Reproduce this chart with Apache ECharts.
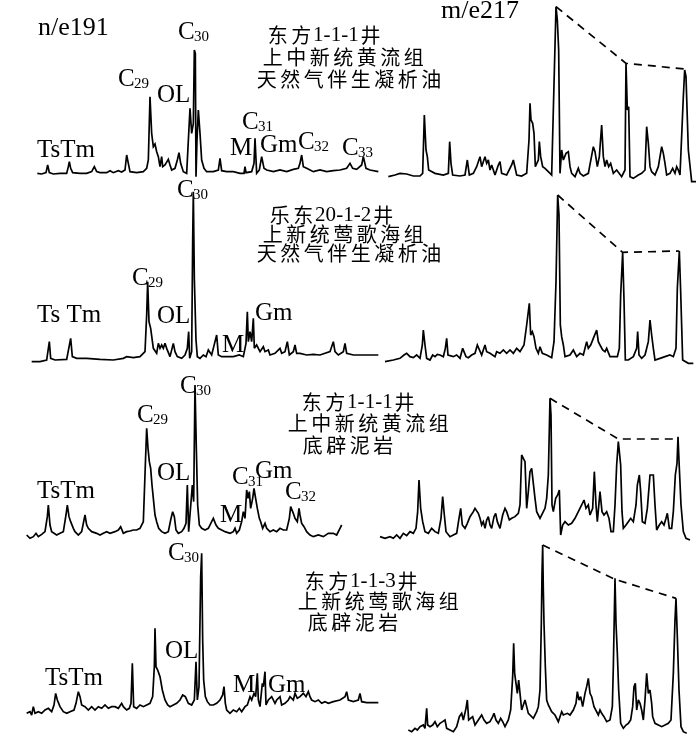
<!DOCTYPE html>
<html><head><meta charset="utf-8">
<script src="https://cdn.jsdelivr.net/npm/echarts@6/dist/echarts.min.js"></script>
<style>html,body{margin:0;padding:0;background:#fff}#c{width:700px;height:736px}</style>
</head><body><div id="c"></div>
<script>
// Retention (scan units) vs abundance above baseline
const traceDF111_m191 = [[112,0],[125,-2],[138,2],[143,25],[148,2],[160,-2],[180,0],[200,0],[205,20],[208,35],[212,15],[218,2],[240,0],[260,0],[275,5],[283,20],[290,5],[300,2],[320,2],[330,8],[340,2],[355,8],[365,4],[375,10],[380,55],[385,30],[390,5],[410,2],[430,5],[440,15],[445,40],[450,230],[455,120],[460,80],[465,88],[470,65],[475,50],[480,20],[485,50],[488,20],[495,25],[500,30],[505,42],[510,25],[515,10],[525,15],[532,40],[537,62],[542,30],[550,5],[560,0],[565,-2],[570,195],[575,120],[580,150],[583,370],[586,360],[588,-10],[591,100],[595,190],[600,120],[605,40],[612,15],[620,5],[640,5],[655,10],[660,45],[665,8],[680,5],[700,5],[720,0],[732,0],[735,20],[738,2],[755,5],[762,30],[765,105],[770,0],[778,10],[785,50],[792,15],[800,10],[820,5],[840,10],[860,5],[880,12],[895,15],[900,30],[905,55],[910,20],[920,15],[940,5],[960,10],[980,5],[1000,8],[1020,10],[1040,15],[1050,30],[1058,15],[1070,12],[1085,25],[1090,50],[1098,15],[1110,10],[1135,5]];
const traceDF111_m217 = [[25,0],[45,5],[60,10],[80,8],[100,2],[120,2],[128,10],[133,185],[138,80],[142,60],[146,20],[150,15],[165,10],[190,5],[205,10],[209,105],[213,40],[218,5],[240,2],[255,5],[262,50],[268,5],[280,10],[290,30],[300,60],[305,30],[310,45],[315,60],[320,40],[325,50],[330,20],[335,35],[345,5],[355,35],[360,45],[365,10],[380,5],[395,35],[400,50],[405,45],[410,5],[425,2],[440,10],[447,110],[450,220],[453,170],[458,160],[462,130],[466,30],[470,25],[475,50],[478,105],[482,60],[488,30],[495,25],[505,15],[515,5],[520,10],[528,510],[532,470],[536,380],[540,10],[545,80],[550,50],[558,70],[565,75],[570,30],[575,10],[585,0],[595,25],[600,10],[610,2],[625,10],[640,90],[645,75],[652,30],[658,60],[665,155],[670,60],[675,30],[680,50],[686,30],[692,40],[700,10],[710,20],[725,0],[735,20],[738,340],[742,200],[746,210],[750,0],[760,-5],[775,5],[785,10],[795,20],[800,150],[805,100],[810,30],[815,15],[825,5],[835,30],[845,90],[850,70],[855,40],[860,5],[870,10],[878,25],[885,10],[890,30],[895,20],[900,5],[905,10],[910,240],[914,320],[918,300],[925,80],[935,-15],[948,-15]];
const steraneDF111_oil = [[528,510],[738,340],[915,323]];

const traceLD2012_m191 = [[95,0],[120,0],[140,5],[148,60],[152,10],[165,5],[200,7],[212,70],[217,15],[230,10],[260,10],[300,7],[340,5],[370,10],[380,15],[400,12],[420,15],[435,30],[440,140],[443,240],[447,120],[452,100],[460,40],[470,25],[475,55],[480,40],[485,50],[490,40],[495,55],[500,40],[510,15],[515,20],[520,55],[525,30],[532,15],[545,10],[555,20],[562,40],[566,90],[569,10],[572,15],[575,30],[578,360],[580,510],[583,250],[588,65],[592,15],[600,10],[610,20],[618,15],[625,35],[635,20],[645,60],[650,80],[655,20],[665,15],[680,15],[700,15],[718,20],[730,15],[738,55],[742,150],[745,60],[750,90],[755,60],[760,130],[763,40],[770,50],[780,30],[790,45],[795,30],[805,35],[810,20],[825,25],[840,40],[845,25],[855,30],[862,60],[868,20],[880,30],[885,50],[890,25],[900,25],[920,20],[940,22],[960,20],[990,30],[1000,60],[1005,30],[1015,20],[1030,30],[1035,55],[1040,25],[1060,20],[1100,20],[1135,20]];
const traceLD2012_m217 = [[15,0],[40,5],[60,10],[72,20],[80,25],[90,15],[100,12],[110,20],[120,10],[127,50],[130,95],[135,50],[140,10],[150,5],[158,20],[165,15],[172,22],[180,20],[190,15],[196,40],[200,70],[204,20],[210,25],[220,15],[230,20],[240,10],[248,40],[252,35],[258,15],[265,12],[275,20],[285,25],[292,50],[298,45],[305,20],[310,35],[315,50],[320,30],[330,25],[345,15],[350,30],[360,25],[370,35],[380,25],[390,35],[400,25],[410,40],[420,30],[432,50],[440,110],[448,175],[452,80],[457,90],[462,75],[468,40],[475,25],[480,45],[487,25],[500,20],[515,12],[522,60],[528,240],[533,500],[537,440],[541,110],[545,75],[550,50],[555,15],[560,10],[570,20],[580,35],[590,15],[600,25],[610,20],[620,60],[625,40],[632,50],[640,70],[650,95],[655,60],[660,50],[668,35],[675,30],[680,40],[690,15],[700,15],[712,15],[718,40],[722,200],[728,328],[732,185],[736,5],[745,5],[760,15],[770,40],[773,90],[777,20],[785,10],[795,20],[805,60],[810,125],[815,80],[820,40],[825,5],[840,10],[855,15],[870,20],[880,15],[888,40],[892,220],[898,332],[902,210],[908,5],[925,-5],[940,-5]];
const steraneLD2012 = [[533,500],[728,328],[898,332]];

const traceDF111_mud_m191 = [[80,5],[90,-5],[100,0],[108,10],[115,0],[125,7],[135,15],[142,60],[145,95],[150,35],[155,15],[160,20],[170,5],[180,10],[190,15],[198,65],[202,95],[207,60],[212,45],[220,25],[225,15],[235,5],[245,15],[252,50],[255,65],[260,35],[265,25],[275,15],[290,10],[300,5],[310,10],[320,15],[330,10],[345,15],[355,20],[362,30],[365,35],[370,10],[380,15],[390,17],[400,20],[410,20],[420,25],[430,45],[436,215],[440,325],[444,265],[448,225],[452,205],[456,155],[460,115],[465,65],[470,45],[476,25],[485,15],[495,10],[505,15],[512,50],[518,75],[523,60],[528,20],[535,10],[545,15],[552,25],[558,40],[562,155],[566,15],[572,10],[577,155],[581,105],[585,455],[589,265],[593,95],[598,35],[605,25],[615,20],[625,25],[635,45],[640,55],[648,35],[655,25],[665,20],[675,15],[690,10],[700,15],[705,25],[710,10],[718,20],[725,45],[730,75],[735,55],[740,140],[744,115],[748,135],[752,85],[758,115],[762,145],[766,120],[772,85],[778,55],[782,45],[788,25],[795,40],[800,25],[810,15],[820,20],[830,15],[840,25],[850,20],[860,20],[868,55],[872,90],[876,95],[880,70],[885,55],[892,45],[897,85],[900,65],[905,40],[912,30],[920,15],[930,5],[940,0],[955,5],[970,0],[985,10],[1000,10],[1010,5],[1020,25],[1025,35]];
const traceDF111_mud_m217 = [[0,0],[15,-5],[30,0],[40,-5],[50,5],[60,-5],[70,10],[80,3],[90,15],[100,10],[108,25],[113,75],[117,170],[122,85],[128,45],[135,15],[145,10],[155,25],[165,15],[175,10],[183,55],[188,120],[193,65],[198,15],[210,0],[220,5],[230,10],[237,55],[242,85],[247,35],[255,25],[262,40],[270,60],[280,75],[285,85],[290,90],[295,70],[300,55],[305,35],[310,45],[315,25],[320,50],[325,60],[330,35],[335,25],[342,60],[347,70],[352,45],[360,25],[368,65],[375,85],[380,75],[388,50],[395,55],[405,60],[415,70],[420,95],[425,245],[430,235],[435,225],[440,85],[445,135],[450,195],[455,205],[460,205],[465,115],[470,75],[475,65],[480,55],[485,55],[490,75],[495,85],[500,115],[505,185],[510,415],[513,365],[516,95],[520,75],[527,115],[533,125],[538,140],[542,5],[548,35],[555,45],[565,35],[575,40],[585,55],[595,75],[605,95],[612,110],[618,85],[625,95],[630,65],[638,85],[643,195],[648,95],[652,45],[660,135],[666,75],[672,65],[680,75],[687,55],[693,15],[700,15],[705,95],[710,215],[715,285],[718,255],[722,215],[726,75],[730,25],[738,35],[745,45],[752,55],[760,45],[768,95],[772,155],[778,185],[782,135],[787,45],[795,40],[802,85],[810,185],[815,190],[820,185],[825,95],[830,20],[838,35],[845,45],[852,35],[858,55],[862,70],[868,25],[875,25],[880,75],[886,185],[891,220],[894,300],[898,205],[903,95],[910,15],[918,-5],[930,-10]];
const steraneDF111_mud = [[510,415],[715,293],[893,293]];

const traceDF113_m191 = [[80,-5],[90,0],[95,-10],[100,15],[105,-5],[115,0],[125,-5],[135,5],[145,10],[155,0],[162,20],[167,55],[172,35],[180,15],[190,0],[200,-5],[210,0],[222,5],[228,25],[235,60],[240,45],[245,20],[255,15],[265,5],[275,15],[285,5],[295,15],[305,10],[315,20],[325,10],[335,15],[345,15],[355,10],[365,25],[370,15],[380,5],[388,10],[393,25],[397,145],[401,15],[410,10],[420,20],[430,15],[440,20],[450,25],[458,45],[463,135],[465,250],[468,135],[473,125],[480,105],[487,65],[495,35],[503,20],[510,15],[520,20],[530,25],[540,35],[548,50],[552,55],[556,45],[560,40],[565,25],[575,20],[583,35],[588,150],[592,35],[597,75],[602,405],[605,475],[608,215],[611,95],[616,45],[622,30],[630,20],[640,20],[650,25],[660,35],[668,50],[672,75],[676,25],[680,5],[690,-5],[700,5],[710,0],[718,10],[725,0],[735,15],[742,20],[750,45],[755,35],[762,55],[767,45],[772,115],[775,35],[780,15],[787,85],[790,75],[795,120],[798,20],[805,35],[815,45],[825,25],[830,35],[840,45],[845,20],[855,25],[865,35],[870,45],[875,50],[880,35],[885,55],[892,40],[900,45],[910,55],[918,45],[925,60],[930,45],[935,35],[945,30],[955,35],[965,25],[975,30],[985,25],[1000,30],[1020,35],[1035,45],[1040,60],[1045,35],[1060,30],[1075,35],[1080,55],[1085,30],[1100,27],[1135,27]];
const traceDF113_m217 = [[85,0],[95,-5],[105,5],[112,0],[120,10],[130,15],[135,5],[140,65],[143,15],[150,10],[158,15],[165,25],[172,10],[180,20],[188,25],[195,30],[200,5],[210,0],[220,-5],[230,10],[238,40],[245,50],[250,30],[258,65],[262,90],[266,30],[270,25],[278,40],[285,15],[295,30],[305,45],[312,30],[320,20],[330,25],[338,40],[342,50],[348,30],[355,20],[362,35],[368,25],[375,10],[385,30],[392,60],[398,160],[401,260],[404,170],[408,140],[412,110],[416,150],[420,145],[425,60],[430,55],[435,90],[440,70],[445,50],[450,45],[460,35],[470,55],[475,70],[480,120],[484,320],[486,470],[488,555],[490,420],[492,320],[496,190],[500,90],[505,75],[515,55],[525,45],[535,25],[545,55],[550,45],[555,40],[562,50],[570,45],[580,60],[588,80],[592,115],[597,90],[602,100],[608,70],[615,110],[620,130],[625,155],[630,110],[635,100],[642,70],[648,70],[655,45],[660,60],[665,50],[672,40],[680,25],[690,30],[697,70],[700,190],[705,455],[708,320],[712,230],[716,120],[722,20],[730,5],[738,15],[745,20],[752,30],[758,70],[762,130],[766,140],[770,60],[775,90],[780,80],[785,60],[790,30],[795,90],[800,170],[805,110],[810,120],[815,80],[818,40],[825,20],[835,15],[845,10],[855,15],[865,20],[873,30],[880,170],[885,330],[888,395],[892,280],[897,120],[903,10],[910,-5],[920,-10]];
const steraneDF113 = [[488,555],[705,452],[888,395]];

const massLabels = ['n/e191', 'm/e217'];
const sampleTitles = [
  ['东方1-1-1井', '上中新统黄流组', '天然气伴生凝析油'],
  ['乐东20-1-2井', '上新统莺歌海组', '天然气伴生凝析油'],
  ['东方1-1-1井', '上中新统黄流组', '底辟泥岩'],
  ['东方1-1-3井', '上新统莺歌海组', '底辟泥岩']
];

// layout of panels
const panels = [
  {left:0,   top:0,   w:390, base:520, data:traceDF111_m191},
  {left:380, top:0,   w:320, base:530, data:traceDF111_m217, dash:steraneDF111_oil},
  {left:0,   top:175, w:390, base:560, data:traceLD2012_m191},
  {left:380, top:175, w:320, base:560, data:traceLD2012_m217, dash:steraneLD2012},
  {left:0,   top:365, w:390, base:515, data:traceDF111_mud_m191},
  {left:380, top:365, w:320, base:515, data:traceDF111_mud_m217, dash:steraneDF111_mud},
  {left:0,   top:540, w:390, base:515, data:traceDF113_m191},
  {left:380, top:540, w:320, base:570, data:traceDF113_m217, dash:steraneDF113}
];

const grid = [], xAxis = [], yAxis = [], series = [];
panels.forEach((p, i) => {
  grid.push({left:p.left, top:p.top, width:p.w, height:p.base/3});
  xAxis.push({type:'value', gridIndex:i, min:0, max:p.w*3, show:false});
  yAxis.push({type:'value', gridIndex:i, min:0, max:p.base, show:false});
  series.push({type:'line', xAxisIndex:i, yAxisIndex:i, data:p.data, symbol:'none', clip:false, silent:true,
    lineStyle:{color:'#000', width:1.7, join:'miter', miterLimit:3}});
  if (p.dash) series.push({type:'line', xAxisIndex:i, yAxisIndex:i, data:p.dash, symbol:'none', clip:false, silent:true,
    lineStyle:{color:'#000', width:1.7, type:[8,6]}});
});

const SERIF = '"Liberation Serif","Times New Roman",serif';
const CJK = '"Noto Sans CJK SC",sans-serif';
const g = [];
function t(x, y, s, size, fam, align) {
  g.push({type:'text', x:x, y:y, silent:true, style:{text:s, fontSize:size, fontFamily:fam||SERIF, fill:'#000', verticalAlign:'middle', align:align||'left'}});
}
function cLab(x, y, sub) { t(x, y, 'C', 25); t(x+16, y+5, sub, 15); }

// panel annotations
t(38, 28, massLabels[0], 26); t(441, 11, massLabels[1], 26);
cLab(178, 32, '30'); cLab(118, 79, '29'); t(157, 95, 'OL', 25); t(37, 150, 'TsTm', 25);
t(230, 148, 'M', 25); cLab(242, 122, '31'); t(260, 145, 'Gm', 25); cLab(298, 142, '32'); cLab(342, 148, '33');

cLab(177, 190, '30'); cLab(132, 278, '29'); t(37, 315, 'Ts Tm', 25); t(157, 316, 'OL', 25);
t(222, 345, 'M', 25); t(255, 313, 'Gm', 25);

cLab(180, 386, '30'); cLab(137, 415, '29'); t(157, 473, 'OL', 25); t(37, 491, 'TsTm', 25);
t(220, 515, 'M', 25); cLab(232, 477, '31'); t(255, 471, 'Gm', 25); cLab(285, 492, '32');

cLab(168, 553, '30'); t(165, 651, 'OL', 25); t(45, 678, 'TsTm', 25);
t(233, 685, 'M', 25); t(268, 685, 'Gm', 25);

// sample titles, spaced characters
function spaced(x, y, s) {
  const pitch = 23.5; let cx = x;
  for (const ch of s) {
    const isCjk = /[\u4e00-\u9fff]/.test(ch);
    const w = isCjk ? 1 : (ch === '-' ? 0.3 : 0.45);
    const cw = w * pitch;
    t(cx + cw/2, y, ch, isCjk ? 20 : 21, isCjk ? CJK : SERIF, 'center');
    cx += cw;
  }
}
const titlePos = [
  [[266,35],[261,57],[255,79]],
  [[268,215],[261,234],[255,253]],
  [[300,402],[286,423],[301,445]],
  [[303,581],[296,601],[306,622]]
];
sampleTitles.forEach((lines, r) => lines.forEach((s, k) => spaced(titlePos[r][k][0], titlePos[r][k][1], s)));

const chart = echarts.init(document.getElementById('c'), null, {renderer:'canvas'});
chart.setOption({animation:false, backgroundColor:'#fff', grid, xAxis, yAxis, series, graphic:g});
</script></body></html>
